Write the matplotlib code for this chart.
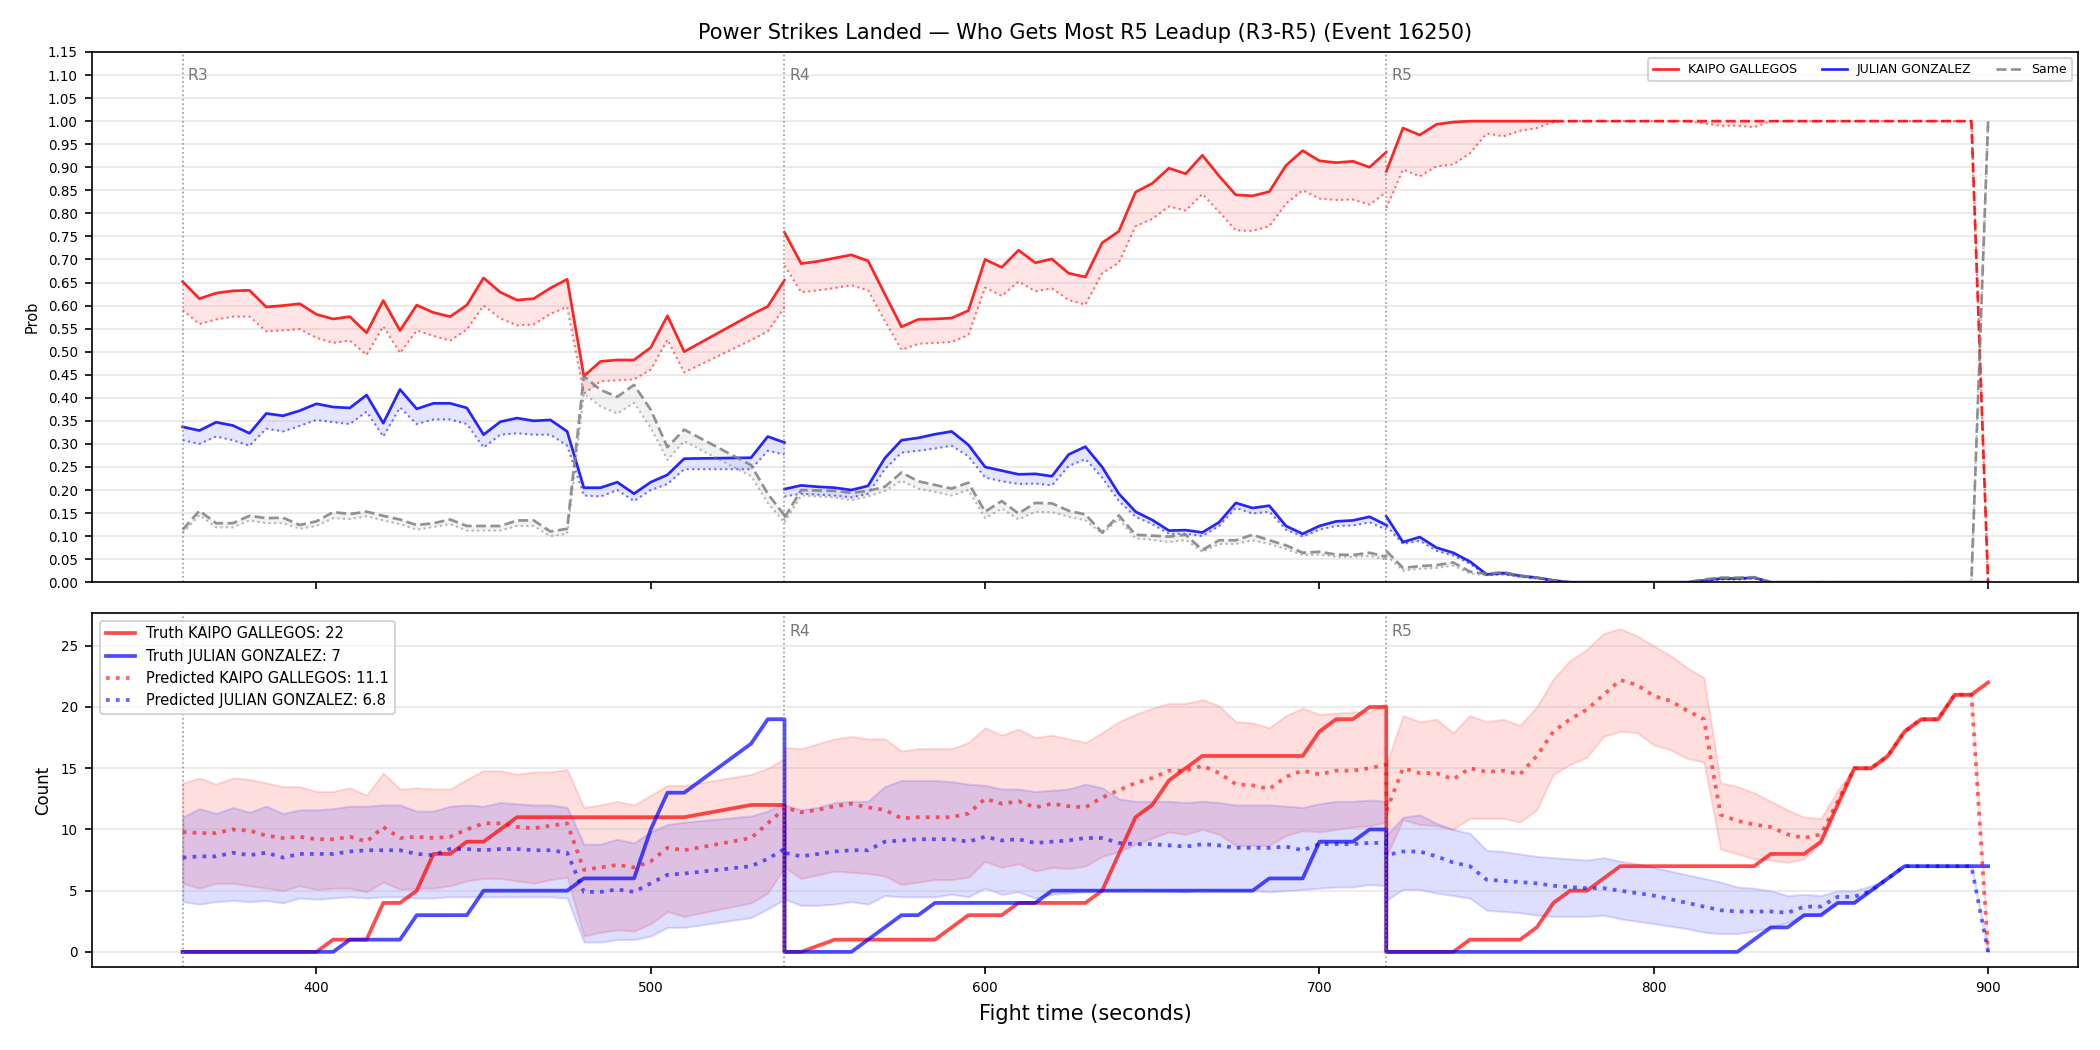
import numpy as np
import matplotlib
matplotlib.use("Agg")
import matplotlib.pyplot as plt

# ---------------- time axes (seconds) ----------------
t_r3 = [360, 365, 370, 375, 380, 385, 390, 395, 400, 405, 410, 415, 420, 425, 430,
        435, 440, 445, 450, 455, 460, 465, 470, 475, 480, 485, 490, 495, 500, 505,
        510, 530, 535, 540]
t_r4 = list(range(540, 725, 5))
t_r5 = list(range(720, 905, 5))
round_starts = [360, 540, 720]
round_labels = ["R3", "R4", "R5"]
decided_time = 770

name_a = "KAIPO GALLEGOS"
name_b = "JULIAN GONZALEZ"

# ---------------- top panel: probabilities ----------------
red_live_r3 = [.652, .615, .627, .632, .633, .597, .600, .604, .581, .571, .576, .541, .611, .546, .601,
               .585, .576, .601, .660, .629, .612, .615, .638, .657, .447, .479, .482, .482, .509, .578,
               .500, .580, .598, .655]
red_base_r3 = [.590, .560, .570, .576, .576, .544, .546, .549, .530, .519, .524, .493, .555, .497, .546,
               .534, .524, .548, .600, .572, .557, .559, .582, .597, .409, .436, .438, .440, .461, .526,
               .455, .525, .544, .596]
blue_live_r3 = [.337, .329, .347, .340, .323, .366, .361, .372, .387, .380, .378, .406, .345, .418, .376,
                .388, .388, .378, .320, .348, .356, .350, .352, .327, .205, .205, .217, .192, .217, .233,
                .268, .270, .316, .303]
blue_base_r3 = [.308, .300, .316, .308, .296, .333, .327, .339, .352, .347, .343, .370, .316, .379, .343,
                .353, .353, .343, .292, .320, .323, .320, .320, .296, .188, .186, .200, .176, .200, .213,
                .245, .245, .285, .277]
same_live_r3 = [.114, .155, .128, .128, .144, .139, .140, .124, .132, .152, .148, .153, .144, .136, .124,
                .128, .136, .122, .122, .122, .134, .134, .110, .116, .447, .417, .402, .428, .374, .293,
                .331, .254, .192, .145]
same_base_r3 = [.107, .146, .119, .119, .134, .128, .128, .116, .122, .139, .137, .143, .134, .126, .114,
                .120, .126, .112, .112, .112, .122, .122, .100, .105, .409, .381, .366, .389, .335, .265,
                .306, .230, .172, .130]

red_live_r4 = [.759, .691, .696, .703, .710, .697, .625, .554, .570, .571, .573, .589, .700, .683, .720,
               .693, .701, .670, .662, .736, .761, .846, .865, .898, .886, .926, .881, .840, .838, .847,
               .904, .936, .914, .910, .913, .900, .933]
red_base_r4 = [.687, .629, .633, .638, .644, .633, .567, .504, .517, .519, .521, .536, .639, .621, .652,
               .631, .637, .612, .602, .670, .693, .772, .788, .815, .806, .842, .803, .763, .762, .772,
               .821, .850, .832, .829, .830, .819, .846]
blue_live_r4 = [.202, .210, .207, .205, .200, .209, .269, .308, .313, .321, .327, .298, .250, .242, .234,
                .235, .230, .277, .294, .250, .192, .153, .135, .112, .113, .108, .130, .172, .161, .166,
                .122, .105, .122, .132, .134, .142, .124]
blue_base_r4 = [.186, .192, .190, .188, .184, .192, .245, .281, .285, .290, .296, .273, .227, .219, .213,
                .214, .210, .252, .267, .227, .176, .142, .126, .105, .105, .100, .122, .161, .149, .153,
                .114, .099, .114, .122, .123, .130, .114]
same_live_r4 = [.140, .200, .199, .198, .194, .198, .207, .238, .219, .211, .203, .216, .153, .176, .149,
                .172, .171, .155, .147, .108, .145, .103, .101, .099, .103, .070, .091, .091, .103, .091,
                .080, .064, .066, .060, .059, .064, .055]
same_base_r4 = [.130, .188, .186, .184, .178, .186, .198, .220, .203, .196, .188, .200, .139, .160, .136,
                .153, .152, .142, .134, .105, .137, .095, .092, .087, .092, .066, .083, .083, .091, .083,
                .072, .059, .060, .055, .055, .057, .049]

red_live_r5 = [.891, .985, .970, .993, .998, 1.0, 1.0, 1.0, 1.0, 1.0, 1.0, 1.0, 1.0, 1.0, 1.0,
               1.0, 1.0, 1.0, 1.0, 1.0, 1.0, 1.0, 1.0, 1.0, 1.0, 1.0, 1.0, 1.0, 1.0, 1.0,
               1.0, 1.0, 1.0, 1.0, 1.0, 1.0, 0.0]
red_base_r5 = [.811, .895, .880, .902, .906, .930, .973, .967, .979, .985, .998, 1.0, 1.0, 1.0, 1.0,
               1.0, 1.0, 1.0, 1.0, .995, .990, .990, .987, 1.0, 1.0, 1.0, 1.0, 1.0, 1.0, 1.0,
               1.0, 1.0, 1.0, 1.0, 1.0, 1.0, 0.0]
blue_live_r5 = [.143, .087, .098, .075, .064, .045, .017, .020, .014, .010, .004, 0, 0, 0, 0,
                0, 0, 0, 0, .004, .008, .008, .010, 0, 0, 0, 0, 0, 0, 0,
                0, 0, 0, 0, 0, 0, 0]
blue_base_r5 = [.122, .083, .090, .068, .058, .040, .015, .017, .012, .008, .003, 0, 0, 0, 0,
                0, 0, 0, 0, .003, .006, .006, .008, 0, 0, 0, 0, 0, 0, 0,
                0, 0, 0, 0, 0, 0, 0]
same_live_r5 = [.068, .031, .035, .037, .043, .023, .018, .022, .014, .010, .004, 0, 0, 0, 0,
                0, 0, 0, 0, .006, .010, .010, .011, 0, 0, 0, 0, 0, 0, 0,
                0, 0, 0, 0, 0, 0, 1.0]
same_base_r5 = [.058, .025, .029, .031, .036, .019, .015, .018, .012, .008, .003, 0, 0, 0, 0,
                0, 0, 0, 0, .005, .008, .008, .009, 0, 0, 0, 0, 0, 0, 0,
                0, 0, 0, 0, 0, 0, 1.0]

# ---------------- bottom panel: counts ----------------
red_truth_r3 = [0, 0, 0, 0, 0, 0, 0, 0, 0, 1, 1, 1, 4, 4, 5, 8, 8, 9, 9, 10, 11, 11, 11, 11, 11, 11,
                11, 11, 11, 11, 11, 12, 12, 12]
blue_truth_r3 = [0, 0, 0, 0, 0, 0, 0, 0, 0, 0, 1, 1, 1, 1, 3, 3, 3, 3, 5, 5, 5, 5, 5, 5, 6, 6, 6, 6,
                 10, 13, 13, 17, 19, 19]
red_pred_r3 = [9.8, 9.7, 9.7, 10.0, 9.9, 9.5, 9.3, 9.4, 9.2, 9.2, 9.4, 9.0, 10.2, 9.3, 9.4, 9.3, 9.4,
               10.0, 10.5, 10.5, 10.2, 10.1, 10.3, 10.5, 6.7, 6.9, 7.1, 6.9, 7.4, 8.5, 8.3, 9.3, 10.5, 11.7]
blue_pred_r3 = [7.7, 7.8, 7.8, 8.1, 7.9, 8.1, 7.7, 8.0, 8.0, 8.0, 8.2, 8.3, 8.3, 8.3, 8.0, 7.9, 8.4,
                8.4, 8.3, 8.4, 8.4, 8.3, 8.3, 8.1, 4.9, 4.9, 5.1, 4.9, 5.6, 6.3, 6.4, 7.0, 7.6, 8.4]
red_hi_r3 = [13.8, 14.2, 13.7, 14.2, 14.1, 13.8, 13.5, 13.5, 13.1, 13.1, 13.4, 12.8, 14.6, 13.3, 13.4,
             13.3, 13.3, 14.1, 14.8, 14.8, 14.5, 14.7, 14.7, 14.9, 11.8, 12.0, 12.3, 12.0, 12.8, 13.6,
             13.6, 14.5, 15.0, 15.8]
red_lo_r3 = [5.6, 5.2, 5.6, 5.6, 5.4, 5.2, 5.0, 5.4, 5.1, 5.2, 5.2, 4.9, 5.7, 5.1, 5.2, 5.2, 5.4, 5.8,
             6.0, 6.0, 5.8, 5.6, 5.9, 6.1, 1.3, 1.6, 1.8, 1.7, 2.3, 3.3, 2.9, 4.0, 4.8, 6.9]
blue_hi_r3 = [11.0, 11.7, 11.3, 11.8, 11.4, 11.9, 11.3, 11.6, 11.6, 11.7, 11.9, 11.9, 12.0, 12.0, 11.5,
              11.5, 11.9, 12.0, 11.9, 12.2, 12.1, 12.0, 12.0, 11.8, 8.8, 8.8, 9.2, 8.9, 9.8, 10.4,
              10.6, 11.1, 11.5, 12.2]
blue_lo_r3 = [4.1, 3.9, 4.1, 4.2, 4.1, 4.2, 4.0, 4.4, 4.3, 4.4, 4.5, 4.4, 4.5, 4.5, 4.4, 4.4, 4.5, 4.5,
              4.5, 4.5, 4.5, 4.5, 4.5, 4.4, 0.8, 0.8, 1.0, 1.0, 1.3, 2.0, 2.0, 2.8, 3.5, 4.3]

red_truth_r4 = [0, 0, 0.5, 1, 1, 1, 1, 1, 1, 1, 2, 3, 3, 3, 4, 4, 4, 4, 4, 5, 8, 11, 12, 14, 15, 16, 16,
                16, 16, 16, 16, 16, 18, 19, 19, 20, 20]
blue_truth_r4 = [0, 0, 0, 0, 0, 1, 2, 3, 3, 4, 4, 4, 4, 4, 4, 4, 5, 5, 5, 5, 5, 5, 5, 5, 5, 5, 5, 5, 5,
                 6, 6, 6, 9, 9, 9, 10, 10]
red_pred_r4 = [11.8, 11.4, 11.6, 11.9, 12.1, 11.8, 11.6, 10.9, 11.0, 11.0, 11.0, 11.3, 12.5, 12.1, 12.3,
               11.8, 12.1, 11.9, 11.8, 12.6, 13.2, 13.8, 14.2, 14.8, 14.8, 15.2, 14.6, 13.7, 13.6, 13.3,
               14.3, 14.8, 14.5, 14.8, 14.8, 15.0, 15.3]
blue_pred_r4 = [8.1, 7.8, 8.0, 8.2, 8.3, 8.3, 9.0, 9.1, 9.2, 9.2, 9.2, 9.0, 9.4, 9.1, 9.2, 8.9, 9.0, 9.1,
                9.3, 9.3, 8.9, 8.8, 8.8, 8.7, 8.6, 8.8, 8.7, 8.5, 8.5, 8.5, 8.6, 8.3, 8.8, 8.8, 8.8, 8.9, 8.9]
red_hi_r4 = [16.7, 16.6, 17.0, 17.4, 17.6, 17.4, 17.4, 16.4, 16.6, 16.6, 16.6, 17.1, 18.3, 17.7, 18.2,
             17.5, 17.7, 17.4, 17.1, 17.9, 18.8, 19.4, 19.9, 20.3, 20.3, 20.6, 20.1, 18.8, 18.7, 18.3,
             19.3, 19.9, 19.4, 19.5, 19.6, 19.6, 20.3]
red_lo_r4 = [6.9, 6.0, 6.3, 6.6, 6.5, 6.4, 6.2, 5.5, 5.7, 5.9, 5.9, 6.1, 7.4, 6.9, 7.2, 6.6, 6.9, 6.8,
             7.0, 7.8, 8.2, 8.8, 9.3, 9.8, 9.6, 10.0, 9.6, 8.7, 8.7, 8.7, 9.5, 9.9, 9.8, 10.0, 10.2, 10.3, 10.6]
blue_hi_r4 = [12.0, 11.6, 11.8, 12.2, 12.3, 12.3, 13.5, 14.0, 14.0, 14.0, 13.9, 13.7, 13.6, 13.3, 13.3,
              13.1, 13.2, 13.3, 13.7, 13.4, 12.5, 12.3, 12.3, 12.3, 12.2, 12.3, 12.2, 12.0, 12.0, 12.0,
              11.9, 11.8, 12.1, 12.3, 12.3, 12.4, 12.3]
blue_lo_r4 = [4.3, 3.8, 3.8, 3.9, 4.1, 3.9, 4.6, 4.5, 4.5, 4.5, 4.7, 4.5, 5.2, 4.7, 4.9, 4.4, 4.7, 4.8,
              4.9, 5.0, 5.0, 5.1, 5.0, 5.0, 4.9, 5.1, 5.0, 5.0, 5.0, 4.9, 5.0, 5.1, 5.2, 5.3, 5.3, 5.5, 5.4]

red_truth_r5 = [0, 0, 0, 0, 0, 1, 1, 1, 1, 2, 4, 5, 5, 6, 7, 7, 7, 7, 7, 7, 7, 7, 7, 8, 8, 8, 9, 12,
                15, 15, 16, 18, 19, 19, 21, 21, 22]
blue_truth_r5 = [0, 0, 0, 0, 0, 0, 0, 0, 0, 0, 0, 0, 0, 0, 0, 0, 0, 0, 0, 0, 0, 0, 1, 2, 2, 3, 3, 4,
                 4, 5, 6, 7, 7, 7, 7, 7, 7]
red_pred_r5 = [11.5, 15.0, 14.6, 14.6, 14.1, 15.0, 14.7, 14.8, 14.5, 16.0, 18.0, 19.0, 19.8, 21.0, 22.2,
               21.8, 20.9, 20.5, 19.7, 19.0, 11.2, 10.7, 10.4, 10.2, 9.6, 9.3, 9.6, 12.3, 15.0, 15.0,
               16.0, 18.0, 19.0, 19.0, 21.0, 21.0, 0.0]
blue_pred_r5 = [7.9, 8.2, 8.2, 7.8, 7.3, 7.0, 5.9, 5.8, 5.7, 5.6, 5.4, 5.3, 5.2, 5.2, 5.0, 4.8, 4.6, 4.3,
                4.0, 3.7, 3.4, 3.3, 3.3, 3.3, 3.2, 3.7, 3.7, 4.5, 4.5, 5.0, 6.0, 7.0, 7.0, 7.0, 7.0, 7.0, 0.0]
red_hi_r5 = [15.3, 19.3, 18.8, 19.0, 17.9, 19.3, 18.8, 19.0, 18.5, 20.0, 22.3, 23.8, 24.7, 26.0, 26.4,
             25.8, 25.0, 24.2, 23.2, 22.4, 13.8, 13.5, 13.0, 12.3, 11.6, 11.0, 10.9, 13.2, 15.1, 15.1,
             16.1, 18.1, 19.1, 19.1, 21.1, 21.1, 0.0]
red_lo_r5 = [7.8, 10.8, 10.4, 10.3, 10.0, 10.9, 10.9, 10.9, 10.6, 11.6, 14.5, 15.3, 15.9, 17.6, 18.0,
             17.9, 16.9, 16.5, 15.8, 15.5, 8.4, 8.0, 7.6, 7.5, 7.3, 7.6, 8.9, 12.0, 14.9, 14.9,
             15.9, 17.9, 18.9, 18.9, 20.9, 20.9, 0.0]
blue_hi_r5 = [9.5, 11.0, 11.2, 10.5, 10.0, 9.7, 8.3, 8.2, 8.0, 7.8, 7.7, 7.6, 7.5, 7.7, 7.4, 7.2, 6.9,
              6.6, 6.3, 6.0, 5.7, 5.3, 5.2, 5.0, 4.6, 4.7, 4.6, 5.0, 5.0, 5.4, 6.0, 7.0, 7.0, 7.0, 7.0, 7.0, 0.0]
blue_lo_r5 = [4.2, 5.1, 5.1, 4.8, 4.6, 4.4, 3.4, 3.3, 3.2, 3.0, 2.9, 2.9, 2.9, 3.0, 2.7, 2.5, 2.3, 2.1,
              1.9, 1.6, 1.5, 1.5, 1.7, 2.0, 2.4, 3.0, 3.1, 4.0, 4.0, 5.0, 6.0, 7.0, 7.0, 7.0, 7.0, 7.0, 0.0]

legend_vals = {"truth_a": 22, "truth_b": 7, "pred_a": 11.1, "pred_b": 6.8}

# ---------------- drawing ----------------
RED, BLUE, GRAY = "red", "blue", "gray"

fig = plt.figure(figsize=(14, 7), dpi=150)
ax1 = fig.add_axes([0.044, 0.4455, 0.9457, 0.5050])
ax2 = fig.add_axes([0.044, 0.0792, 0.9457, 0.3367], sharex=ax1)

rounds_t = [t_r3, t_r4, t_r5]
top_series = [
    (RED, [red_live_r3, red_live_r4, red_live_r5], [red_base_r3, red_base_r4, red_base_r5], "-"),
    (BLUE, [blue_live_r3, blue_live_r4, blue_live_r5], [blue_base_r3, blue_base_r4, blue_base_r5], "-"),
    (GRAY, [same_live_r3, same_live_r4, same_live_r5], [same_base_r3, same_base_r4, same_base_r5], "--"),
]

for color, lives, bases, ls in top_series:
    for t, live, base in zip(rounds_t, lives, bases):
        t = np.asarray(t, float)
        live = np.asarray(live, float)
        base = np.asarray(base, float)
        ax1.fill_between(t, base, live, color=color, alpha=0.1, linewidth=0)
        ax1.plot(t, base, color=color, linestyle=":", linewidth=1.0, alpha=0.55)
        if color == RED and t[0] == 720:
            m1 = t <= decided_time
            m2 = t >= decided_time
            ax1.plot(t[m1], live[m1], color=color, linestyle="-", linewidth=1.3, alpha=0.85)
            ax1.plot(t[m2], live[m2], color=color, linestyle="--", linewidth=1.3, alpha=0.85)
        else:
            ax1.plot(t, live, color=color, linestyle=ls, linewidth=1.3, alpha=0.85)

from matplotlib.lines import Line2D
handles = [Line2D([], [], color=RED, lw=1.3, alpha=0.85),
           Line2D([], [], color=BLUE, lw=1.3, alpha=0.85),
           Line2D([], [], color=GRAY, lw=1.3, ls="--", alpha=0.85)]
ax1.legend(handles, [name_a, name_b, "Same"], loc="upper right", ncol=3, fontsize=6)

ax1.set_ylim(0, 1.15)
ax1.set_yticks(np.round(np.arange(0, 1.151, 0.05), 2))
ax1.set_yticklabels([f"{v:.2f}" for v in np.arange(0, 1.151, 0.05)])
ax1.set_ylabel("Prob", fontsize=7)
ax1.grid(axis="y", alpha=0.3)
ax1.tick_params(labelbottom=False, labelsize=6.5)
ax1.set_title("Power Strikes Landed \u2014 Who Gets Most R5 Leadup (R3-R5) (Event 16250)", fontsize=10)

# bottom
bot = [
    (RED, [red_hi_r3, red_hi_r4, red_hi_r5], [red_lo_r3, red_lo_r4, red_lo_r5]),
    (BLUE, [blue_hi_r3, blue_hi_r4, blue_hi_r5], [blue_lo_r3, blue_lo_r4, blue_lo_r5]),
]
for color, his, los in bot:
    for t, hi, lo in zip(rounds_t, his, los):
        ax2.fill_between(t, lo, hi, color=color, alpha=0.13, linewidth=1.0)

preds = [(RED, [red_pred_r3, red_pred_r4, red_pred_r5]), (BLUE, [blue_pred_r3, blue_pred_r4, blue_pred_r5])]
truths = [(RED, [red_truth_r3, red_truth_r4, red_truth_r5]), (BLUE, [blue_truth_r3, blue_truth_r4, blue_truth_r5])]
t_all = t_r3 + t_r4 + t_r5
for color, parts in truths:
    ax2.plot(t_all, sum([list(p) for p in parts], []), color=color, lw=1.8, alpha=0.7)
for color, parts in preds:
    ax2.plot(t_all, sum([list(p) for p in parts], []), color=color, lw=1.8, alpha=0.6, linestyle=":")

leg_handles = [Line2D([], [], color=RED, lw=1.8, alpha=0.7),
               Line2D([], [], color=BLUE, lw=1.8, alpha=0.7),
               Line2D([], [], color=RED, lw=1.8, alpha=0.6, ls=":"),
               Line2D([], [], color=BLUE, lw=1.8, alpha=0.6, ls=":")]
leg_labels = [f"Truth {name_a}: {legend_vals['truth_a']}",
              f"Truth {name_b}: {legend_vals['truth_b']}",
              f"Predicted {name_a}: {legend_vals['pred_a']}",
              f"Predicted {name_b}: {legend_vals['pred_b']}"]

ax2.set_ylim(-1.22, 27.65)
ax2.set_xlim(333, 927)
ax2.set_ylabel("Count", fontsize=8)
ax2.set_xlabel("Fight time (seconds)", fontsize=10)
ax2.grid(axis="y", alpha=0.3)
ax2.tick_params(labelsize=6.5)

for ax in (ax1, ax2):
    for x0, lab in zip(round_starts, round_labels):
        ax.axvline(x0, color="gray", linestyle=":", linewidth=0.8, alpha=0.8)
        ax.text(x0 + 1.5, 0.97, lab, transform=ax.get_xaxis_transform(), fontsize=7.5,
                color="dimgray", alpha=0.9, va="top", ha="left")

ax2.legend(leg_handles, leg_labels, loc="upper left", fontsize=7)

fig.savefig("out.png", dpi=150)
